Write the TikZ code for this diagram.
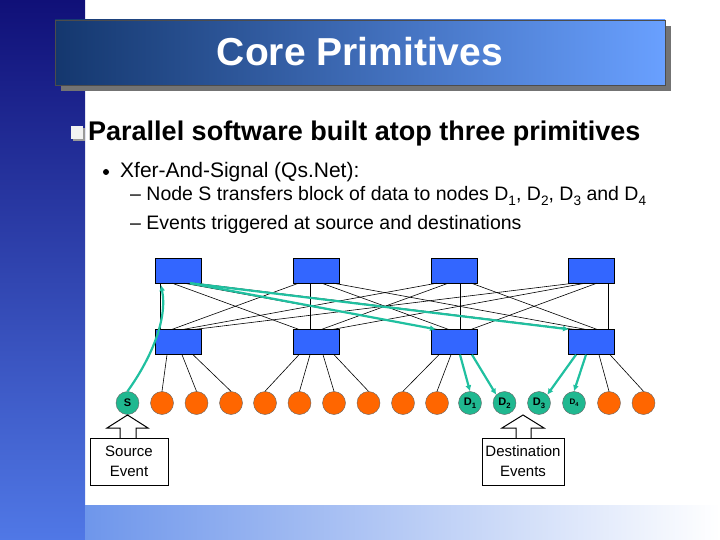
\documentclass[tikz,border=0pt]{standalone}
\usepackage{fontspec}
\setmainfont{Liberation Sans}
\newcommand{\mysub}[1]{\raisebox{-0.25em}{\scalebox{0.7}{#1}}}
\begin{document}
\begin{tikzpicture}[x=1pt,y=-1pt,
  sw/.style={draw=black,fill=swblue,minimum width=46pt,minimum height=25pt,inner sep=0pt},
  nd/.style={circle,draw=black!60,fill=orng,minimum size=23pt,inner sep=0pt},
  gn/.style={circle,draw=black!60,fill=grn,minimum size=23pt,inner sep=0pt,font=\bfseries\fontsize{11}{12}\selectfont},
  gar/.style={draw=garr,line width=2.2pt,-{Latex[length=6pt,width=6pt]}},
  thin/.style={draw=black,line width=0.6pt},
  txt/.style={anchor=west,inner sep=0pt}]
\definecolor{swblue}{HTML}{3366FF}
\definecolor{orng}{HTML}{FF6600}
\definecolor{grn}{HTML}{20B890}
\definecolor{garr}{HTML}{20C0A0}
\useasboundingbox (0,0) rectangle (720,540);
\usetikzlibrary{arrows.meta}
\fill[white] (0,0) rectangle (720,540);
\shade[top color={rgb,255:red,16;green,16;blue,120},bottom color={rgb,255:red,80;green,120;blue,230}] (0,0) rectangle (85,540);
\shade[left color={rgb,255:red,110;green,150;blue,235},right color=white] (85,505) rectangle (720,540);
% title
\fill[black!55] (61,26) rectangle (671,91);
\shade[left color={rgb,255:red,20;green,55;blue,110},right color={rgb,255:red,105;green,160;blue,255},draw=black!70] (55,20) rectangle (665,85);
\node[font=\bfseries\fontsize{39}{40}\selectfont,text=white] (title) at (360,52) {Core Primitives};
% bullets
\fill[black!40] (73,128) rectangle (85,141);
\fill[white!95!black] (71,126) rectangle (83,139);
\node[txt,font=\bfseries\fontsize{27}{30}\selectfont] (h1) at (88,134) {Parallel software built atop three primitives};
\fill (106,172) circle (3);
\node[txt,font=\fontsize{21}{23}\selectfont] (h2) at (120,172) {Xfer-And-Signal (Qs.Net):};
\node[txt,font=\fontsize{19.5}{21}\selectfont] (h3) at (130,196) {-- Node S transfers block of data to nodes D\mysub{1}, D\mysub{2}, D\mysub{3} and D\mysub{4}};
\node[txt,font=\fontsize{19.5}{21}\selectfont] (h4) at (130,224) {-- Events triggered at source and destinations};
% switches
\foreach \i/\x in {1/178,2/316,3/454,4/591}{
  \node[sw] (t\i) at (\x,270.5) {};
  \node[sw] (b\i) at (\x,342) {};
}
\foreach \i in {1,...,4}{\foreach \j in {1,...,4}{
  \path (t\i.south west) -- (t\i.south east) coordinate[pos={(\j-0.5)/4}] (ta);
  \path (b\j.north west) -- (b\j.north east) coordinate[pos={(\i-0.5)/4}] (ba);
  \draw[thin] (ta) -- (ba);
}}
% end nodes
\node[gn] (n0) at (127.5,403) {S};
\foreach \k/\x in {1/162,2/196.5,3/231,4/265,5/299.5,6/334,7/368.5,8/403,9/437,14/609,15/643.5}{
  \node[nd] (n\k) at (\x,403) {};
}
\node[gn] (n10) at (470,403) {D\mysub{1}};
\node[gn] (n11) at (504.5,403) {D\mysub{2}};
\node[gn] (n12) at (539,403) {D\mysub{3}};
\node[gn,font=\bfseries\fontsize{8}{9}\selectfont] (n13) at (574,403) {D\mysub{4}};
% black leaf links
\draw[thin] ([xshift=-11pt]b1.south) -- (n1.north);
\draw[thin] ([xshift=4pt]b1.south) -- (n2.north);
\draw[thin] ([xshift=15pt]b1.south) -- (n3.north);
\draw[thin] ([xshift=-17pt]b2.south) -- (n4.north);
\draw[thin] ([xshift=-6pt]b2.south) -- (n5.north);
\draw[thin] ([xshift=7pt]b2.south) -- (n6.north);
\draw[thin] ([xshift=18pt]b2.south) -- (n7.north);
\draw[thin] ([xshift=-15pt]b3.south) -- (n8.north);
\draw[thin] ([xshift=-3pt]b3.south) -- (n9.north);
\draw[thin] ([xshift=8pt]b4.south) -- (n14.north);
\draw[thin] ([xshift=19pt]b4.south) -- (n15.north);
% green arrows
\coordinate (up1) at (161,285);
\draw[gar] (n0.north) .. controls (150,360) and (168,320) .. (up1);
\draw[gar] ([xshift=12pt]t1.south) -- ([xshift=-18pt]b3.north);
\draw[gar] ([xshift=12pt]t1.south) -- ([xshift=-22pt]b4.north);
\draw[gar] ([xshift=6pt]b3.south) -- (n10.north);
\draw[gar] ([xshift=18pt]b3.south) -- (n11.north west);
\draw[gar] ([xshift=-15pt]b4.south) -- (n12.north east);
\draw[gar] ([xshift=-5pt]b4.south) -- (n13.north);
% callouts
\draw[line width=1pt,fill=white] (120,438) -- (120,428) -- (107,428) -- (127.5,415) -- (148,428) -- (136,428) -- (136,438);
\node[draw=black,line width=1pt,fill=white,minimum width=78pt,minimum height=47pt,align=center,inner sep=1pt,font=\fontsize{15}{20}\selectfont] (se) at (129,461.5) {Source\\Event};
\draw[line width=1pt,fill=white] (516,438) -- (516,428) -- (502,428) -- (523,415) -- (544,428) -- (531,428) -- (531,438);
\node[draw=black,line width=1pt,fill=white,minimum width=82pt,minimum height=47pt,align=center,inner sep=1pt,font=\fontsize{15}{20}\selectfont] (de) at (523,461.5) {Destination\\Events};
\end{tikzpicture}
\end{document}
